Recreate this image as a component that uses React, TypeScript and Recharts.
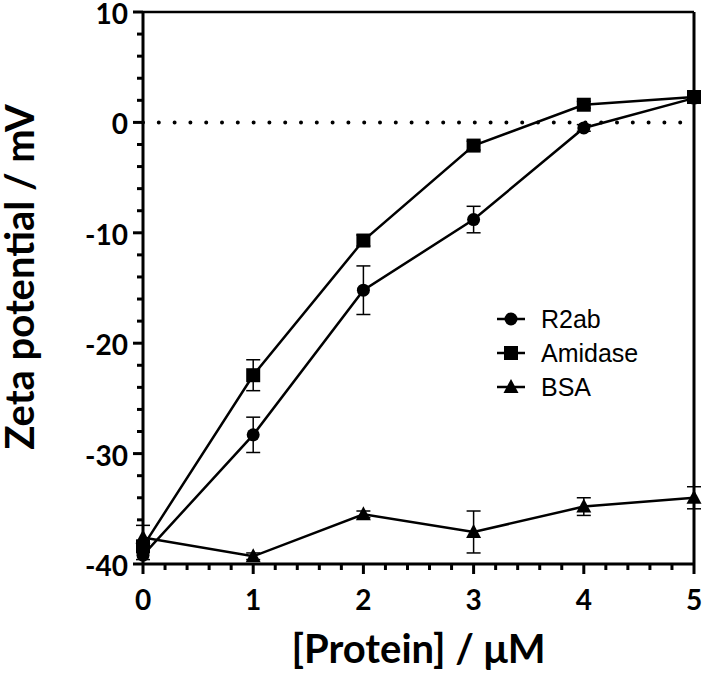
import { ErrorBar, Line, LineChart, ReferenceLine, XAxis, YAxis } from "recharts"

// [Protein] in µM
const concentrations = [0, 1, 2, 3, 4, 5]

// zeta potential (mV) and error bars, per protein
const r2ab = [-39.2, -28.3, -15.2, -8.8, -0.5, 2.2]
const r2abErr = [0.4, 1.6, 2.2, 1.2, 0.3, 0.3]
const amidase = [-38.4, -22.9, -10.7, -2.1, 1.6, 2.3]
const amidaseErr = [0.5, 1.4, 0.5, 0.4, 0.3, 0.3]
const bsa = [-37.6, -39.3, -35.5, -37.1, -34.8, -34.0]
const bsaErr = [1.1, 0.3, 0.3, 1.9, 0.8, 1.0]

const xTicks = [0, 0.2, 0.4, 0.6, 0.8, 1, 1.2, 1.4, 1.6, 1.8, 2, 2.2, 2.4, 2.6, 2.8, 3, 3.2, 3.4, 3.6, 3.8, 4, 4.2, 4.4, 4.6, 4.8, 5]
const yTicks = [-40, -38, -36, -34, -32, -30, -28, -26, -24, -22, -20, -18, -16, -14, -12, -10, -8, -6, -4, -2, 0, 2, 4, 6, 8, 10]

const data = concentrations.map((x, i) => ({
    x,
    r2ab: r2ab[i],
    r2abErr: r2abErr[i],
    amidase: amidase[i],
    amidaseErr: amidaseErr[i],
    bsa: bsa[i],
    bsaErr: bsaErr[i],
}))

const TICK_FONT = "Lato, 'Open Sans', sans-serif"
const LEGEND_FONT = "'Liberation Sans', Arial, sans-serif"

function XTick({ x, y, payload }: any) {
    const major = Number.isInteger(payload.value)
    return (
        <g>
            <line x1={x} x2={x} y1={y} y2={y + (major ? 10 : 6)} stroke="#000" strokeWidth={3} />
            {major && (
                <text x={x} y={y + 46} textAnchor="middle" fontFamily={TICK_FONT} fontWeight={700} fontSize={28} fill="#000">
                    {payload.value}
                </text>
            )}
        </g>
    )
}

function YTick({ x, y, payload }: any) {
    const major = payload.value % 10 === 0
    return (
        <g>
            <line x1={x} x2={x - (major ? 10 : 6)} y1={y} y2={y} stroke="#000" strokeWidth={3} />
            {major && (
                <text x={x - 15} y={y + 12} textAnchor="end" fontFamily={TICK_FONT} fontWeight={700} fontSize={28} fill="#000">
                    {payload.value}
                </text>
            )}
        </g>
    )
}

const circleDot = (p: any) => <circle key={`c-${p.index}`} cx={p.cx} cy={p.cy} r={6.5} fill="#000" />
const squareDot = (p: any) => <rect key={`s-${p.index}`} x={p.cx - 7} y={p.cy - 7} width={14} height={14} fill="#000" />
const triangleDot = (p: any) => (
    <polygon key={`t-${p.index}`} points={`${p.cx},${p.cy - 8} ${p.cx - 7.5},${p.cy + 6} ${p.cx + 7.5},${p.cy + 6}`} fill="#000" />
)

const legendItems = [
    { name: "R2ab", shape: "circle" },
    { name: "Amidase", shape: "square" },
    { name: "BSA", shape: "triangle" },
]

// legend sits inside the plot, so it is drawn over the chart instead of taking room from it
function ChartLegend() {
    return (
        <div style={{ position: "absolute", left: 496, top: 302 }}>
            {legendItems.map((item) => (
                <div key={item.name} style={{ display: "flex", alignItems: "center", height: 34 }}>
                    <svg width={30} height={20} style={{ marginRight: 15 }}>
                        <line x1={1} x2={29} y1={10} y2={10} stroke="#000" strokeWidth={2.5} />
                        {item.shape === "circle" && <circle cx={15} cy={10} r={6.5} fill="#000" />}
                        {item.shape === "square" && <rect x={8} y={3} width={14} height={14} fill="#000" />}
                        {item.shape === "triangle" && <polygon points="15,2 7.5,16 22.5,16" fill="#000" />}
                    </svg>
                    <span style={{ fontFamily: LEGEND_FONT, fontSize: 25, color: "#000", lineHeight: 1 }}>{item.name}</span>
                </div>
            ))}
        </div>
    )
}

export default function App() {
    return (
        <div style={{ position: "absolute", left: 0, top: 0, width: 705, height: 676, background: "#fff" }}>
            <LineChart width={705} height={676} data={data} margin={{ top: 12, right: 11, left: 0, bottom: 0 }}>
                <XAxis
                    dataKey="x"
                    type="number"
                    domain={[0, 5]}
                    ticks={xTicks}
                    interval={0}
                    height={112}
                    tickSize={0}
                    tickMargin={0}
                    tick={<XTick />}
                    axisLine={{ stroke: "#000", strokeWidth: 3 }}
                    label={({ viewBox }: any) => (
                        <text
                            x={viewBox.x + viewBox.width / 2}
                            y={663}
                            textAnchor="middle"
                            fontFamily={TICK_FONT}
                            fontWeight={700}
                            fontSize={40}
                            fill="#000"
                        >
                            [Protein] / μM
                        </text>
                    )}
                />
                <YAxis
                    type="number"
                    domain={[-40, 10]}
                    ticks={yTicks}
                    interval={0}
                    width={143}
                    tickSize={0}
                    tickMargin={0}
                    tick={<YTick />}
                    axisLine={{ stroke: "#000", strokeWidth: 3 }}
                    label={() => (
                        <text
                            x={34}
                            y={277}
                            transform="rotate(-90, 34, 277)"
                            textAnchor="middle"
                            fontFamily={TICK_FONT}
                            fontWeight={700}
                            fontSize={40}
                            fill="#000"
                        >
                            Zeta potential / mV
                        </text>
                    )}
                />
                <ReferenceLine y={10} stroke="#000" strokeWidth={2.5} />
                <ReferenceLine x={5} stroke="#000" strokeWidth={3} />
                <ReferenceLine y={0} stroke="#000" strokeWidth={4} strokeDasharray="0 15.8" strokeLinecap="round" />
                <Line dataKey="r2ab" stroke="#000" strokeWidth={2.5} dot={circleDot} isAnimationActive={false}>
                    <ErrorBar dataKey="r2abErr" width={7} stroke="#000" strokeWidth={1.5} direction="y" />
                </Line>
                <Line dataKey="amidase" stroke="#000" strokeWidth={2.5} dot={squareDot} isAnimationActive={false}>
                    <ErrorBar dataKey="amidaseErr" width={7} stroke="#000" strokeWidth={1.5} direction="y" />
                </Line>
                <Line dataKey="bsa" stroke="#000" strokeWidth={2.5} dot={triangleDot} isAnimationActive={false}>
                    <ErrorBar dataKey="bsaErr" width={7} stroke="#000" strokeWidth={1.5} direction="y" />
                </Line>
            </LineChart>
            <ChartLegend />
        </div>
    )
}
